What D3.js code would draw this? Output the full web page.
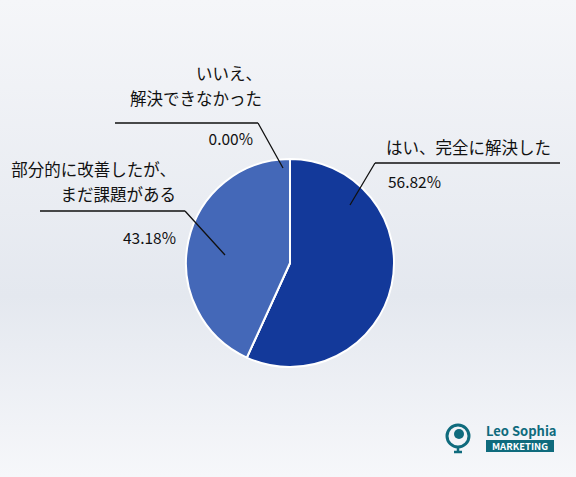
<!DOCTYPE html>
<html><head><meta charset="utf-8">
<script src="https://cdn.jsdelivr.net/npm/d3@7"></script>
<style>body{margin:0;} text{font-family:"Noto Sans CJK JP","Noto Sans",sans-serif;fill:#111;}</style>
</head><body>
<script>
var categories = ["はい、完全に解決した", "いいえ、解決できなかった", "部分的に改善したが、まだ課題がある"];
var values = [56.82, 0.00, 43.18];
var colors = ["#13399a", "#2a4fa8", "#4468b8"];

var w = 576, h = 477, cx = 290, cy = 263, r = 104;
var svg = d3.select("body").append("svg").attr("width", w).attr("height", h);

var grad = svg.append("defs").append("linearGradient").attr("id", "bg")
    .attr("x1", 0).attr("y1", 0).attr("x2", 0).attr("y2", 1);
grad.append("stop").attr("offset", "0%").attr("stop-color", "#f5f6f9");
grad.append("stop").attr("offset", "62%").attr("stop-color", "#e4e8ef");
grad.append("stop").attr("offset", "100%").attr("stop-color", "#f6f7fa");
svg.append("rect").attr("width", w).attr("height", h).attr("fill", "url(#bg)");

var pie = d3.pie().sort(null).value(function (d) { return d; });
var arc = d3.arc().innerRadius(0).outerRadius(r);
var arcs = pie(values);

var chart = svg.append("g").attr("transform", "translate(" + cx + "," + cy + ")");
chart.selectAll("path").data(arcs).enter().append("path")
    .attr("d", arc)
    .attr("fill", function (d, i) { return colors[i]; })
    .attr("stroke", "#fff").attr("stroke-width", 2);

// label layout: lines, pct position, underline [x0, x1, y], leader end (relative to center)
var labels = [
    {lines: [categories[0]], x: 386, y: 154, anchor: "start", pct: [388, 188], line: [375, 560, 163], elbow: 375, end: [60, -58]},
    {lines: ["いいえ、", "解決できなかった"], x: 262, y: 80, anchor: "end", pct: [253, 145], line: [115, 258, 123], elbow: 258, end: [-7, -95]},
    {lines: ["部分的に改善したが、", "まだ課題がある"], x: 176, y: 176, anchor: "end", pct: [176, 244], line: [40, 185, 211], elbow: 185, end: [-65, -8]}
];

labels.forEach(function (l, i) {
    var px = cx + l.end[0], py = cy + l.end[1];
    svg.append("path")
        .attr("d", "M" + l.line[0] + "," + l.line[2] + "H" + l.line[1] + "M" + l.elbow + "," + l.line[2] + "L" + px + "," + py)
        .attr("stroke", "#111").attr("stroke-width", 1.3).attr("fill", "none");
    l.lines.forEach(function (t, j) {
        svg.append("text").attr("x", l.x).attr("y", l.y + j * 25)
            .attr("text-anchor", l.anchor).attr("font-size", 16.5).text(t);
    });
    svg.append("text").attr("x", l.pct[0]).attr("y", l.pct[1])
        .attr("text-anchor", l.anchor).attr("font-size", 15.5).text(values[i].toFixed(2) + "%");
});

// logo
var logo = svg.append("g");
logo.append("circle").attr("cx", 458).attr("cy", 436).attr("r", 11).attr("fill", "none").attr("stroke", "#0f6b7d").attr("stroke-width", 3);
logo.append("circle").attr("cx", 459).attr("cy", 434).attr("r", 5).attr("fill", "#0f6b7d");
logo.append("path").attr("d", "M458,447V453M454,452H462").attr("stroke", "#0f6b7d").attr("stroke-width", 2.5);
logo.append("text").attr("x", 486).attr("y", 436).attr("font-size", 13).attr("font-weight", "bold")
    .style("fill", "#0f6b7d").attr("font-family", "Roboto").text("Leo Sophia");
logo.append("rect").attr("x", 486).attr("y", 440).attr("width", 68).attr("height", 12).attr("fill", "#0f6b7d");
logo.append("text").attr("x", 520).attr("y", 450).attr("text-anchor", "middle").attr("font-size", 9.5).attr("font-weight", "bold")
    .style("fill", "#fff").attr("font-family", "Roboto").text("MARKETING");
</script>
</body></html>
